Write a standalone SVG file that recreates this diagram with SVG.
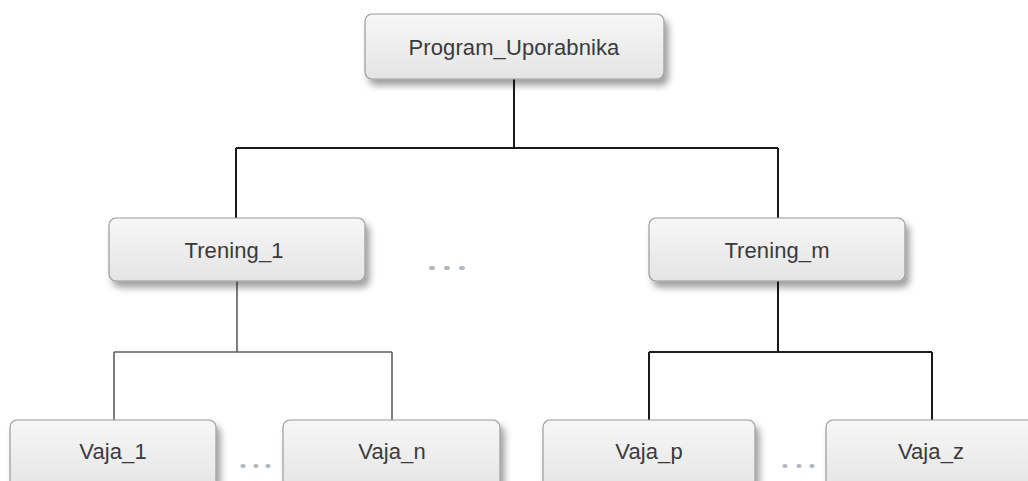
<svg xmlns="http://www.w3.org/2000/svg" width="1028" height="481" viewBox="0 0 1028 481">
<defs>
<linearGradient id="g" x1="0" y1="0" x2="0" y2="1">
<stop offset="0" stop-color="#f7f7f7"/>
<stop offset="1" stop-color="#e4e4e4"/>
</linearGradient>
<filter id="sh" x="-10%" y="-20%" width="125%" height="160%">
<feDropShadow dx="4" dy="6" stdDeviation="3.5" flood-color="#000" flood-opacity="0.38"/>
</filter>
</defs>
<style>
.box{fill:url(#g);stroke:#9a9a9a;stroke-width:1.2;filter:url(#sh)}
.t{font-family:"Liberation Sans",Arial,sans-serif;font-size:22px;fill:#3a3a3a;text-anchor:middle;letter-spacing:0.1px}
.c1{fill:none;stroke:#1a1a1a;stroke-width:2}
.c2{fill:none;stroke:#606060;stroke-width:1.6}
.dot{fill:#b0b6be}
</style>
<rect width="1028" height="481" fill="#fff"/>
<g id="connectors">
<path class="c1" d="M514 79 V148 M236 148 H778 M236 148 V218 M778 148 V218"/>
<path class="c2" d="M237 281 V352 M114 352 H392 M114 352 V420 M392 352 V420"/>
<path class="c1" d="M778 281 V352 M649 352 H932 M649 352 V420 M932 352 V420"/>
</g>
<g id="dots">
<ellipse class="dot" cx="432" cy="268" rx="3" ry="2.1"/>
<ellipse class="dot" cx="447" cy="268" rx="3" ry="2.1"/>
<ellipse class="dot" cx="462" cy="268" rx="3" ry="2.1"/>
<ellipse class="dot" cx="243" cy="466" rx="2.6" ry="1.9"/>
<ellipse class="dot" cx="256" cy="466" rx="2.6" ry="1.9"/>
<ellipse class="dot" cx="268" cy="466" rx="2.6" ry="1.9"/>
<ellipse class="dot" cx="785" cy="466" rx="2.6" ry="1.9"/>
<ellipse class="dot" cx="799" cy="466" rx="2.6" ry="1.9"/>
<ellipse class="dot" cx="812" cy="466" rx="2.6" ry="1.9"/>
</g>
<g id="program_uporabnika">
<rect class="box" x="365" y="14" width="299" height="65" rx="7"/>
<text class="t" x="514" y="55">Program_Uporabnika</text>
</g>
<g id="trening_1">
<rect class="box" x="109" y="218" width="256" height="63" rx="7"/>
<text class="t" x="234" y="258">Trening_1</text>
</g>
<g id="trening_m">
<rect class="box" x="649" y="218" width="256" height="63" rx="7"/>
<text class="t" x="777" y="258">Trening_m</text>
</g>
<g id="vaja_1">
<rect class="box" x="10" y="420" width="206" height="70" rx="7"/>
<text class="t" x="113" y="459">Vaja_1</text>
</g>
<g id="vaja_n">
<rect class="box" x="283" y="420" width="217" height="70" rx="7"/>
<text class="t" x="392" y="459">Vaja_n</text>
</g>
<g id="vaja_p">
<rect class="box" x="543" y="420" width="212" height="70" rx="7"/>
<text class="t" x="649" y="459">Vaja_p</text>
</g>
<g id="vaja_z">
<rect class="box" x="826" y="420" width="220" height="70" rx="7"/>
<text class="t" x="931" y="459">Vaja_z</text>
</g>
</svg>
